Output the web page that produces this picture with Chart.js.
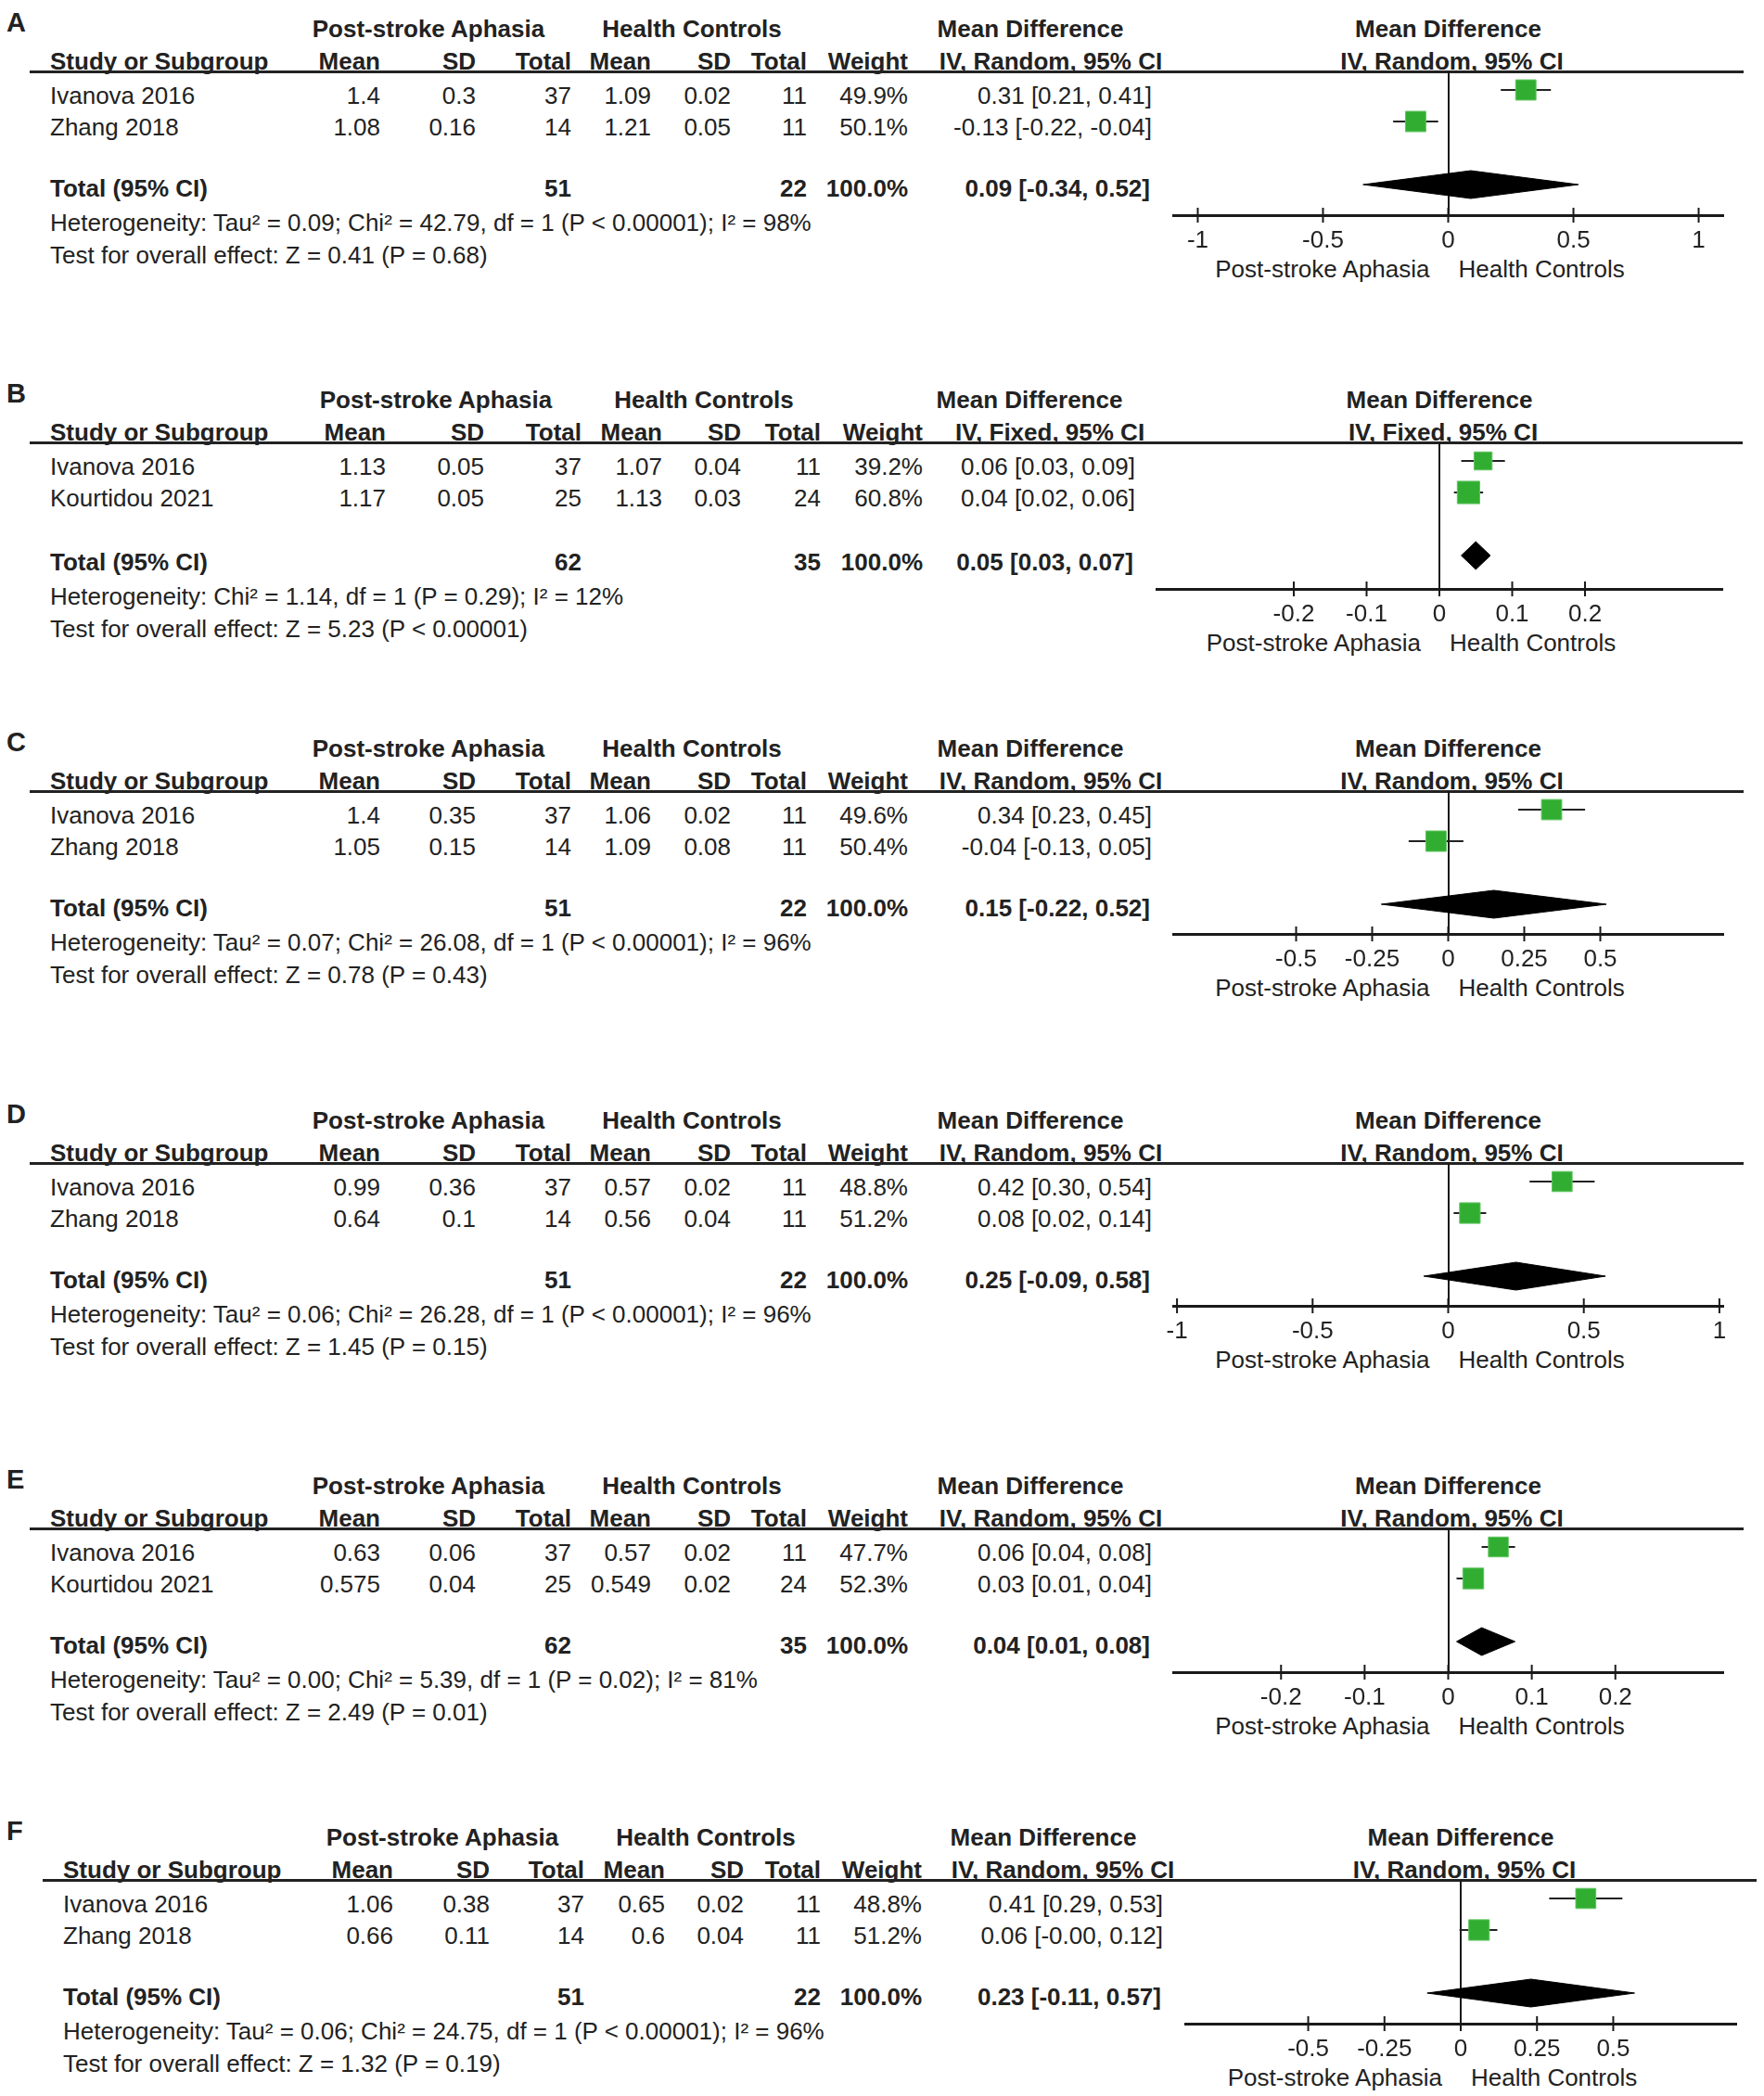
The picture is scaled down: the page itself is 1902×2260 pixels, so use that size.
<!DOCTYPE html>
<html><head><meta charset="utf-8">
<script src="https://cdn.jsdelivr.net/npm/chart.js@4.4.1/dist/chart.umd.min.js"></script>
<style>
html,body{margin:0;padding:0;background:#fff;}
#page{position:relative;width:1902px;height:2260px;overflow:hidden;font-family:"Liberation Sans",Arial,Helvetica,sans-serif;color:#222;background:#fff;}
.t{position:absolute;white-space:nowrap;font-size:26px;line-height:30px;height:30px;}
.b{font-weight:bold;}
.rule{position:absolute;height:3px;background:#222;}
canvas{position:absolute;}
</style></head><body><div id="page"></div>
<script>
// ---------------- DATA ----------------
const panelLetters = ['A','B','C','D','E','F'];
const studyNames = [
  ['Ivanova 2016','Zhang 2018'],
  ['Ivanova 2016','Kourtidou 2021'],
  ['Ivanova 2016','Zhang 2018'],
  ['Ivanova 2016','Zhang 2018'],
  ['Ivanova 2016','Kourtidou 2021'],
  ['Ivanova 2016','Zhang 2018']
];
const psaMean = [[1.4,1.08],[1.13,1.17],[1.4,1.05],[0.99,0.64],[0.63,0.575],[1.06,0.66]];
const psaSD   = [[0.3,0.16],[0.05,0.05],[0.35,0.15],[0.36,0.1],[0.06,0.04],[0.38,0.11]];
const psaN    = [[37,14],[37,25],[37,14],[37,14],[37,25],[37,14]];
const hcMean  = [[1.09,1.21],[1.07,1.13],[1.06,1.09],[0.57,0.56],[0.57,0.549],[0.65,0.6]];
const hcSD    = [[0.02,0.05],[0.04,0.03],[0.02,0.08],[0.02,0.04],[0.02,0.02],[0.02,0.04]];
const hcN     = [[11,11],[11,24],[11,11],[11,11],[11,24],[11,11]];
const weights = [[49.9,50.1],[39.2,60.8],[49.6,50.4],[48.8,51.2],[47.7,52.3],[48.8,51.2]];
const mdEst   = [[0.31,-0.13],[0.06,0.04],[0.34,-0.04],[0.42,0.08],[0.06,0.03],[0.41,0.06]];
const mdLo    = [[0.21,-0.22],[0.03,0.02],[0.23,-0.13],[0.30,0.02],[0.04,0.01],[0.29,-0.004]];
const mdHi    = [[0.41,-0.04],[0.09,0.06],[0.45,0.05],[0.54,0.14],[0.08,0.04],[0.53,0.12]];
const totalPSA = [51,62,51,51,62,51];
const totalHC  = [22,35,22,22,35,22];
const poolEst = [0.09,0.05,0.15,0.25,0.04,0.23];
const poolLo  = [-0.34,0.03,-0.22,-0.09,0.01,-0.11];
const poolHi  = [0.52,0.07,0.52,0.58,0.08,0.57];
const methods = ['Random','Fixed','Random','Random','Random','Random'];
const heterogeneityText = [
  'Heterogeneity: Tau² = 0.09; Chi² = 42.79, df = 1 (P < 0.00001); I² = 98%',
  'Heterogeneity: Chi² = 1.14, df = 1 (P = 0.29); I² = 12%',
  'Heterogeneity: Tau² = 0.07; Chi² = 26.08, df = 1 (P < 0.00001); I² = 96%',
  'Heterogeneity: Tau² = 0.06; Chi² = 26.28, df = 1 (P < 0.00001); I² = 96%',
  'Heterogeneity: Tau² = 0.00; Chi² = 5.39, df = 1 (P = 0.02); I² = 81%',
  'Heterogeneity: Tau² = 0.06; Chi² = 24.75, df = 1 (P < 0.00001); I² = 96%'
];
const overallText = [
  'Test for overall effect: Z = 0.41 (P = 0.68)',
  'Test for overall effect: Z = 5.23 (P < 0.00001)',
  'Test for overall effect: Z = 0.78 (P = 0.43)',
  'Test for overall effect: Z = 1.45 (P = 0.15)',
  'Test for overall effect: Z = 2.49 (P = 0.01)',
  'Test for overall effect: Z = 1.32 (P = 0.19)'
];
const tickValues = [
  [-1,-0.5,0,0.5,1],
  [-0.2,-0.1,0,0.1,0.2],
  [-0.5,-0.25,0,0.25,0.5],
  [-1,-0.5,0,0.5,1],
  [-0.2,-0.1,0,0.1,0.2],
  [-0.5,-0.25,0,0.25,0.5]
];
const axisLimit = [1.098, 0.3885, 0.904, 1.014, 0.329, 0.903];
const groupLeft = 'Post-stroke Aphasia';
const groupRight = 'Health Controls';

// ---------------- LAYOUT ----------------
const headerY = [77, 477, 853, 1254, 1648, 2027];
const axisH   = [155, 158, 154, 154, 155, 155];
const lowShift = [0, 3, 0, 0, 0, 0];
const LAY_STD = {lineX:32, study:54, psa:462, hc:746, cols:[410,513,616,702,788,870,979], mdHead:1111, ivHead:1133, mdVal:1242, plotL:1265, plotR:1858};
const LAY_B   = {lineX:32, study:54, psa:470, hc:759, cols:[416,522,627,714,799,885,995], mdHead:1110, ivHead:1132, mdVal:1224, plotL:1247, plotR:1857};
const LAY_F   = {lineX:46, study:68, psa:477, hc:761, cols:[424,528,630,717,802,885,994], mdHead:1125, ivHead:1146, mdVal:1254, plotL:1278, plotR:1872};
const layouts = [LAY_STD, LAY_B, LAY_STD, LAY_STD, LAY_STD, LAY_F];

const page = document.getElementById('page');
const PAGE_W = 1902;
function txt(s, x, yc, align, bold, size){
  const d = document.createElement('div');
  d.className = 't' + (bold ? ' b' : '');
  d.textContent = s;
  d.style.top = (yc - 15) + 'px';
  if (size) d.style.fontSize = size + 'px';
  if (align === 'right') { d.style.right = (PAGE_W - x) + 'px'; }
  else if (align === 'center') { d.style.left = x + 'px'; d.style.transform = 'translateX(-50%)'; }
  else { d.style.left = x + 'px'; }
  page.appendChild(d);
  return d;
}
function fmt2(v){ return v.toFixed(2); }
function ciText(e,l,h){ return fmt2(e) + ' [' + fmt2(l) + ', ' + fmt2(h) + ']'; }

const tickMarks = {
  id:'tickMarks',
  afterDraw(chart){
    const s = chart.scales.x, ctx = chart.ctx, yb = chart.chartArea.bottom;
    ctx.save(); ctx.strokeStyle = '#1a1a1a'; ctx.lineWidth = 2;
    s.ticks.forEach(t => {
      const x = s.getPixelForValue(t.value);
      ctx.beginPath(); ctx.moveTo(x, yb - 8); ctx.lineTo(x, yb + 8); ctx.stroke();
    });
    ctx.restore();
  }
};

const ROW = 34, TOPOFF = 20, DHALF = 15 / 34;

panelLetters.forEach((letter, p) => {
  const L = layouts[p], hl = headerY[p], ls = lowShift[p], AXIS = axisH[p];
  const center = (L.plotL + L.plotR) / 2;
  // panel letter
  txt(letter, 7, hl - 53, 'left', true, 29);
  // group headers
  txt(groupLeft, L.psa, hl - 46, 'center', true);
  txt(groupRight, L.hc, hl - 46, 'center', true);
  txt('Mean Difference', L.mdHead, hl - 46, 'center', true);
  txt('Mean Difference', center, hl - 46, 'center', true);
  const iv = 'IV, ' + methods[p] + ', 95% CI';
  // column headers
  txt('Study or Subgroup', L.study, hl - 11, 'left', true);
  ['Mean','SD','Total','Mean','SD','Total','Weight'].forEach((h, i) => txt(h, L.cols[i], hl - 11, 'right', true));
  txt(iv, L.ivHead, hl - 11, 'center', true);
  txt(iv, center + 4, hl - 11, 'center', true);
  // rule
  const r = document.createElement('div');
  r.className = 'rule';
  r.style.left = L.lineX + 'px'; r.style.width = (L.plotR + 22 - L.lineX) + 'px'; r.style.top = (hl - 1) + 'px';
  page.appendChild(r);
  // study rows
  studyNames[p].forEach((name, i) => {
    const y = hl + 26 + i * ROW;
    txt(name, L.study, y, 'left', false);
    const vals = [String(psaMean[p][i]), String(psaSD[p][i]), String(psaN[p][i]), String(hcMean[p][i]), String(hcSD[p][i]), String(hcN[p][i]), weights[p][i].toFixed(1) + '%'];
    vals.forEach((v, k) => txt(v, L.cols[k], y, 'right', false));
    txt(ciText(mdEst[p][i], mdLo[p][i], mdHi[p][i]), L.mdVal, y, 'right', false);
  });
  // total row
  const ty = hl + 126 + ls;
  txt('Total (95% CI)', L.study, ty, 'left', true);
  txt(String(totalPSA[p]), L.cols[2], ty, 'right', true);
  txt(String(totalHC[p]), L.cols[5], ty, 'right', true);
  txt('100.0%', L.cols[6], ty, 'right', true);
  txt(ciText(poolEst[p], poolLo[p], poolHi[p]), L.mdVal - 2, ty, 'right', true);
  txt(heterogeneityText[p], L.study, hl + 163 + ls, 'left', false);
  txt(overallText[p], L.study, hl + 198 + ls, 'left', false);
  // favours labels
  const zeroX = center;
  txt(groupLeft, zeroX - 20, hl + AXIS + 58, 'right', false);
  txt(groupRight, zeroX + 11, hl + AXIS + 58, 'left', false);

  // chart
  const M = 40;
  const w = (L.plotR - L.plotL) + 2 * M, h = AXIS + 60;
  const cv = document.createElement('canvas');
  cv.width = w; cv.height = h;
  cv.style.left = (L.plotL - M) + 'px'; cv.style.top = hl + 'px';
  cv.style.width = w + 'px'; cv.style.height = h + 'px';
  page.appendChild(cv);

  const n = studyNames[p].length;
  const datasets = [];
  datasets.push({
    type:'scatter', label:'Studies',
    data: mdEst[p].map((v, i) => ({x:v, y:i})),
    pointStyle:'rect',
    pointRadius: weights[p].map(wt => 3.1 * Math.sqrt(wt) / Math.SQRT2),
    pointHoverRadius: weights[p].map(wt => 3.1 * Math.sqrt(wt) / Math.SQRT2),
    backgroundColor:'#31ae31', borderColor:'#62c462', borderWidth:1, order:0
  });
  mdLo[p].forEach((lo, i) => datasets.push({
    type:'line', label:'CI ' + i,
    data:[{x:lo, y:i}, {x:mdHi[p][i], y:i}],
    borderColor:'#222', borderWidth:2, pointRadius:0, fill:false, order:1
  }));
  const tr = n + 1;
  datasets.push({
    type:'line', label:'Total',
    data:[{x:poolLo[p], y:tr}, {x:poolEst[p], y:tr - DHALF}, {x:poolHi[p], y:tr}, {x:poolEst[p], y:tr + DHALF}, {x:poolLo[p], y:tr}],
    borderColor:'#000', backgroundColor:'#000', borderWidth:1, pointRadius:0, fill:'shape', tension:0, order:2
  });

  new Chart(cv, {
    type:'scatter',
    data:{datasets},
    options:{
      responsive:false, animation:false, events:[],
      layout:{autoPadding:false, padding:{left:M, right:M, top:0, bottom:0}},
      plugins:{legend:{display:false}, tooltip:{enabled:false}},
      scales:{
        x:{
          type:'linear', min:-axisLimit[p], max:axisLimit[p],
          afterBuildTicks: s => { s.ticks = tickValues[p].map(v => ({value:v})); },
          afterFit: s => { s.height = h - AXIS; },
          grid:{drawTicks:false, drawOnChartArea:true, lineWidth:2,
                color: c => (c.tick && c.tick.value === 0) ? '#1a1a1a' : 'rgba(0,0,0,0)'},
          border:{display:true, color:'#1a1a1a', width:3},
          ticks:{color:'#222', font:{family:'Liberation Sans', size:26}, padding:12, maxRotation:0, autoSkip:false,
                 callback: v => String(v)}
        },
        y:{type:'linear', display:false, reverse:true, min:-TOPOFF / ROW, max:(AXIS - TOPOFF) / ROW}
      }
    },
    plugins:[tickMarks]
  });
});
</script></body></html>
